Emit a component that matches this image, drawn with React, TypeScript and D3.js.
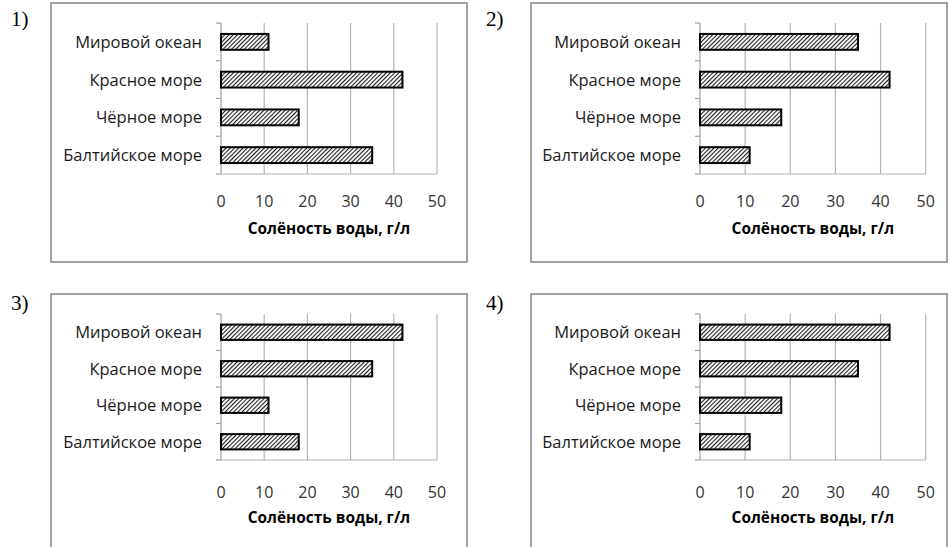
import React from "react";
import * as d3 from "d3";

const categories = ["Мировой океан", "Красное море", "Чёрное море", "Балтийское море"];
const salinity1 = [11, 42, 18, 35];
const salinity2 = [35, 42, 18, 11];
const salinity3 = [42, 35, 11, 18];
const salinity4 = [42, 35, 18, 11];
const xTicks = [0, 10, 20, 30, 40, 50];
const panelLabels = ["1)", "2)", "3)", "4)"];
const axisTitle = "Солёность воды, г/л";

const W = 948;
const H = 547;
const FONT = "'Open Sans', 'Liberation Sans', sans-serif";

type Layout = {
  box: [number, number, number, number];
  label: [number, number];
  x0: number;
  x1: number;
  top: number;
  bottom: number;
  tickY: number;
  titleY: number;
};

const layouts: Layout[] = [
  { box: [51, 3, 467, 262], label: [11, 26], x0: 221, x1: 437, top: 23, bottom: 174, tickY: 207, titleY: 234 },
  { box: [531, 3, 947, 262], label: [486, 26], x0: 700, x1: 925.7, top: 23, bottom: 174, tickY: 207, titleY: 234 },
  { box: [51, 294, 467, 560], label: [11, 310], x0: 221, x1: 437, top: 314, bottom: 460, tickY: 498, titleY: 523 },
  { box: [531, 294, 947, 560], label: [486, 310], x0: 700, x1: 925.7, top: 314, bottom: 460, tickY: 498, titleY: 523 },
];

const datasets = [salinity1, salinity2, salinity3, salinity4];

function Panel({ values, layout, label }: { values: number[]; layout: Layout; label: string }) {
  const x = d3.scaleLinear().domain([0, 50]).range([layout.x0, layout.x1]);
  const y = d3.scaleBand<string>().domain(categories).range([layout.top, layout.bottom]).paddingInner(0.58).paddingOuter(0.29);
  const [bx0, by0, bx1, by1] = layout.box;
  const boundaries = d3.range(categories.length + 1).map(
    (i) => layout.top + (i * (layout.bottom - layout.top)) / categories.length
  );
  return (
    <g>
      <text x={layout.label[0]} y={layout.label[1]} fontFamily="'Liberation Serif', 'Times New Roman', serif" fontSize={21} fill="#000">
        {label}
      </text>
      <rect x={bx0} y={by0} width={bx1 - bx0} height={by1 - by0} fill="#fff" stroke="#8c8c8c" strokeWidth={1.6} />
      {xTicks.slice(1).map((t) => (
        <line key={t} x1={x(t)} x2={x(t)} y1={layout.top} y2={layout.bottom} stroke="#b4b4b4" strokeWidth={1.2} />
      ))}
      <line x1={x(0)} x2={x(50)} y1={layout.bottom} y2={layout.bottom} stroke="#b4b4b4" strokeWidth={1.2} />
      <line x1={x(0)} x2={x(0)} y1={layout.top} y2={layout.bottom} stroke="#a0a0a0" strokeWidth={1.2} />
      {boundaries.map((b, i) => (
        <line key={i} x1={x(0) - 5} x2={x(0)} y1={b} y2={b} stroke="#a0a0a0" strokeWidth={1.2} />
      ))}
      {categories.map((c, i) => (
        <rect
          key={c}
          x={x(0)}
          y={y(c)!}
          width={x(values[i]) - x(0)}
          height={y.bandwidth()}
          fill={`url(#hatch)`}
          stroke="#000"
          strokeWidth={2}
        />
      ))}
      {categories.map((c) => (
        <text
          key={c}
          x={x(0) - 19}
          y={y(c)! + y.bandwidth() / 2}
          dy="0.36em"
          textAnchor="end"
          fontFamily={FONT}
          fontSize={16.5}
          fill="#1a1a1a"
        >
          {c}
        </text>
      ))}
      {xTicks.map((t) => (
        <text key={t} x={x(t)} y={layout.tickY} textAnchor="middle" fontFamily={FONT} fontSize={16} fill="#333">
          {t}
        </text>
      ))}
      <text
        x={(x(0) + x(50)) / 2}
        y={layout.titleY}
        textAnchor="middle"
        fontFamily={FONT}
        fontWeight="bold"
        fontSize={15.4}
        fill="#000"
      >
        {axisTitle}
      </text>
    </g>
  );
}

export default function App() {
  return (
    <svg
      width={W}
      height={H}
      viewBox={`0 0 ${W} ${H}`}
      style={{ position: "fixed", left: 0, top: 0, background: "#fff" }}
    >
      <defs>
        <pattern id="hatch" patternUnits="userSpaceOnUse" width={3} height={3} patternTransform="rotate(45)">
          <rect width={3} height={3} fill="#fff" />
          <line x1={0} y1={0} x2={0} y2={3} stroke="#1e1e1e" strokeWidth={2.2} />
        </pattern>
      </defs>
      <rect width={W} height={H} fill="#fff" />
      {layouts.map((l, i) => (
        <Panel key={i} values={datasets[i]} layout={l} label={panelLabels[i]} />
      ))}
    </svg>
  );
}
